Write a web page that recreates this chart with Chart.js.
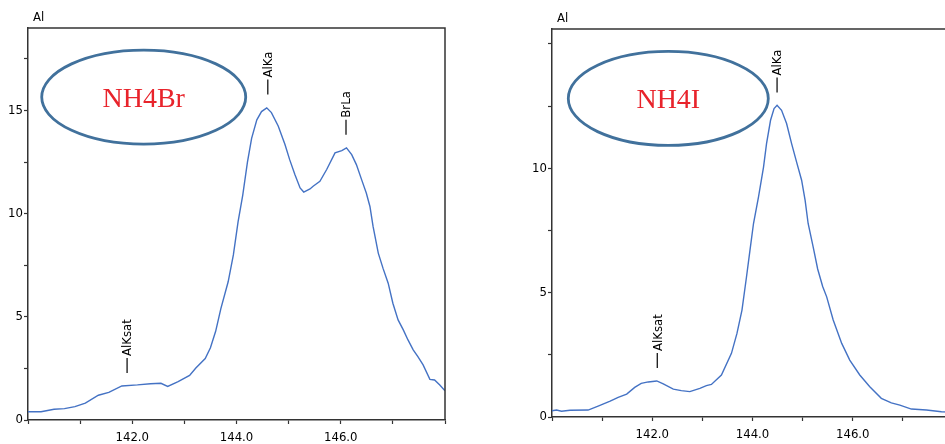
<!DOCTYPE html>
<html>
<head>
<meta charset="utf-8">
<script src="https://cdn.jsdelivr.net/npm/chart.js@4.4.1/dist/chart.umd.min.js"></script>
<style>
    html, body { margin: 0; padding: 0; background: #fff; overflow: hidden; width: 945px; height: 444px; }
    .panel { position: absolute; top: 0; }
</style>
</head>
<body>
<div class="panel" style="left:0px"><canvas id="brChart" width="470" height="444"></canvas></div>
<div class="panel" style="left:500px"><canvas id="iChart" width="480" height="444"></canvas></div>
<script>
// NH4Br spectrum (left)
let brEnergy = [140.00, 140.25, 140.35, 140.50, 140.70, 140.90, 141.10, 141.35, 141.55, 141.80,
    142.10, 142.35, 142.55, 142.68, 142.88, 143.10, 143.22, 143.40, 143.50, 143.60,
    143.70, 143.84, 143.94, 144.03, 144.12, 144.21, 144.29, 144.39, 144.48, 144.58,
    144.67, 144.80, 144.93, 145.02, 145.12, 145.22, 145.29, 145.41, 145.47, 145.60,
    145.73, 145.89, 146.02, 146.11, 146.21, 146.30, 146.40, 146.49, 146.56, 146.62,
    146.72, 146.81, 146.91, 147.00, 147.10, 147.20, 147.29, 147.39, 147.48, 147.58,
    147.71, 147.80, 147.90, 148.00];
let brIntensity = [0.40, 0.40, 0.45, 0.52, 0.55, 0.65, 0.82, 1.20, 1.34, 1.65,
    1.70, 1.76, 1.78, 1.63, 1.86, 2.16, 2.52, 2.98, 3.50, 4.30,
    5.40, 6.70, 8.00, 9.60, 10.90, 12.50, 13.65, 14.55, 14.95, 15.13,
    14.90, 14.25, 13.35, 12.62, 11.90, 11.25, 11.05, 11.20, 11.33, 11.57,
    12.14, 12.95, 13.06, 13.19, 12.86, 12.38, 11.65, 11.00, 10.35, 9.38,
    8.09, 7.36, 6.63, 5.66, 4.85, 4.37, 3.88, 3.40, 3.07, 2.67,
    1.97, 1.94, 1.70, 1.42];

// NH4I spectrum (right)
let iEnergy = [140.00, 140.09, 140.19, 140.36, 140.72, 140.92, 141.16, 141.32, 141.49, 141.65,
    141.78, 141.92, 142.09, 142.22, 142.42, 142.58, 142.75, 142.95, 143.08, 143.18,
    143.38, 143.58, 143.69, 143.79, 143.88, 143.95, 144.02, 144.12, 144.22, 144.28,
    144.36, 144.43, 144.49, 144.58, 144.68, 144.78, 144.88, 144.98, 145.05, 145.11,
    145.21, 145.30, 145.40, 145.48, 145.61, 145.78, 145.94, 146.14, 146.34, 146.57,
    146.77, 146.94, 147.17, 147.47, 147.77, 148.00];
let iIntensity = [0.25, 0.28, 0.23, 0.27, 0.28, 0.44, 0.64, 0.79, 0.92, 1.19,
    1.35, 1.41, 1.45, 1.33, 1.12, 1.06, 1.02, 1.15, 1.26, 1.31,
    1.69, 2.56, 3.36, 4.30, 5.63, 6.71, 7.78, 8.85, 10.05, 10.99,
    11.93, 12.40, 12.53, 12.33, 11.80, 10.99, 10.25, 9.52, 8.71, 7.78,
    6.84, 5.95, 5.25, 4.83, 3.90, 2.96, 2.29, 1.69, 1.22, 0.75,
    0.57, 0.48, 0.32, 0.28, 0.21, 0.20];

// axis labels
let xTickLabels = [142, 144, 146];
let brYTickLabels = [0, 5, 10, 15];
let iYTickLabels = [0, 5, 10];

// peak markers
let brPeakNames = ['AlKsat', 'AlKa', 'BrLa'];
let brPeakEnergy = [141.92, 144.62, 146.12];
let brPeakTop = [2.28, 15.78, 13.83];
let iPeakNames = ['AlKsat', 'AlKa'];
let iPeakEnergy = [142.12, 144.51];
let iPeakTop = [1.97, 13.05];

const tickFont = {family: "'DejaVu Sans Condensed', 'Liberation Sans Narrow', sans-serif", size: 13};

const decorPlugin = {
    id: 'decor',
    afterDraw(chart, args, opts) {
        const ctx = chart.ctx;
        const area = chart.chartArea;
        const xs = chart.scales.x;
        const ys = chart.scales.y;
        ctx.save();

        // box top and right
        ctx.strokeStyle = '#333';
        ctx.lineWidth = 1.5;
        ctx.beginPath();
        ctx.moveTo(area.left, area.top);
        ctx.lineTo(area.right, area.top);
        ctx.lineTo(area.right, area.bottom);
        ctx.stroke();

        // element name
        ctx.fillStyle = '#000';
        ctx.font = "13px 'DejaVu Sans Condensed', sans-serif";
        ctx.textAlign = 'left';
        ctx.textBaseline = 'bottom';
        ctx.fillText('Al', area.left + 5, area.top - 4);

        // peak markers, vertical text
        for (let i = 0; i < opts.peakNames.length; i++) {
            const px = xs.getPixelForValue(opts.peakEnergy[i]);
            const py = ys.getPixelForValue(opts.peakTop[i]);
            ctx.save();
            ctx.translate(px, py);
            ctx.rotate(-Math.PI / 2);
            ctx.strokeStyle = '#000';
            ctx.lineWidth = 1.2;
            ctx.beginPath();
            ctx.moveTo(0, -1);
            ctx.lineTo(15, -1);
            ctx.stroke();
            ctx.textBaseline = 'middle';
            ctx.fillText(opts.peakNames[i], 17, 0);
            ctx.restore();
        }

        // sample ellipse
        const cx = xs.getPixelForValue(opts.nameX);
        const cy = ys.getPixelForValue(opts.nameY);
        ctx.strokeStyle = '#41719C';
        ctx.lineWidth = 2.8;
        ctx.beginPath();
        ctx.ellipse(cx, cy, opts.rx, 47, 0, 0, Math.PI * 2);
        ctx.stroke();
        ctx.fillStyle = '#E8232B';
        ctx.font = "28px 'Liberation Serif', 'Times New Roman', serif";
        ctx.textAlign = 'center';
        ctx.textBaseline = 'alphabetic';
        ctx.fillText(opts.sample, cx, cy + 10);
        ctx.restore();
    }
};

function makeChart(canvasId, energy, intensity, cfg) {
    return new Chart(
            document.getElementById(canvasId),
            {
                type: 'line',
                data: {
                    datasets: [
                        {
                            data: energy.map((e, i) => ({x: e, y: intensity[i]})),
                            borderColor: '#4472C4',
                            borderWidth: 1.4,
                            pointRadius: 0,
                            tension: 0,
                            fill: false
                        }
                    ]
                },
                plugins: [decorPlugin],
                options: {
                    responsive: false,
                    animation: false,
                    events: [],
                    layout: {
                        padding: {top: cfg.top, right: cfg.right, left: 0, bottom: 0}
                    },
                    plugins: {
                        legend: {display: false},
                        tooltip: {enabled: false},
                        decor: cfg.decor
                    },
                    scales: {
                        x: {
                            type: 'linear',
                            min: 140,
                            max: 148,
                            afterFit: scale => { scale.height = cfg.xHeight; },
                            grid: {drawOnChartArea: false, tickLength: 4, tickColor: '#333', tickWidth: 1.2},
                            border: {color: '#333', width: 1.5},
                            ticks: {
                                stepSize: 1,
                                autoSkip: false,
                                maxRotation: 0,
                                padding: 6,
                                color: '#000',
                                font: tickFont,
                                callback: v => xTickLabels.includes(v) ? v.toFixed(1) : ''
                            }
                        },
                        y: {
                            min: 0,
                            max: cfg.yMax,
                            afterFit: scale => { scale.width = cfg.yWidth; },
                            grid: {drawOnChartArea: false, tickLength: 4, tickColor: '#333', tickWidth: 1.2},
                            border: {color: '#333', width: 1.5},
                            ticks: {
                                stepSize: 2.5,
                                includeBounds: false,
                                padding: 1,
                                color: '#000',
                                font: tickFont,
                                callback: v => cfg.yLabels.includes(v) ? String(v) : ''
                            }
                        }
                    }
                }
            }
    );
}

makeChart('brChart', brEnergy, brIntensity, {
    top: 28, right: 25, xHeight: 24, yWidth: 28, yMax: 19.0, yLabels: brYTickLabels,
    decor: {peakNames: brPeakNames, peakEnergy: brPeakEnergy, peakTop: brPeakTop,
        sample: 'NH4Br', nameX: 142.22, nameY: 15.65, rx: 102}
});

makeChart('iChart', iEnergy, iIntensity, {
    top: 29, right: 27, xHeight: 27, yWidth: 52, yMax: 15.6, yLabels: iYTickLabels,
    decor: {peakNames: iPeakNames, peakEnergy: iPeakEnergy, peakTop: iPeakTop,
        sample: 'NH4I', nameX: 142.32, nameY: 12.81, rx: 100}
});
</script>
</body>
</html>
